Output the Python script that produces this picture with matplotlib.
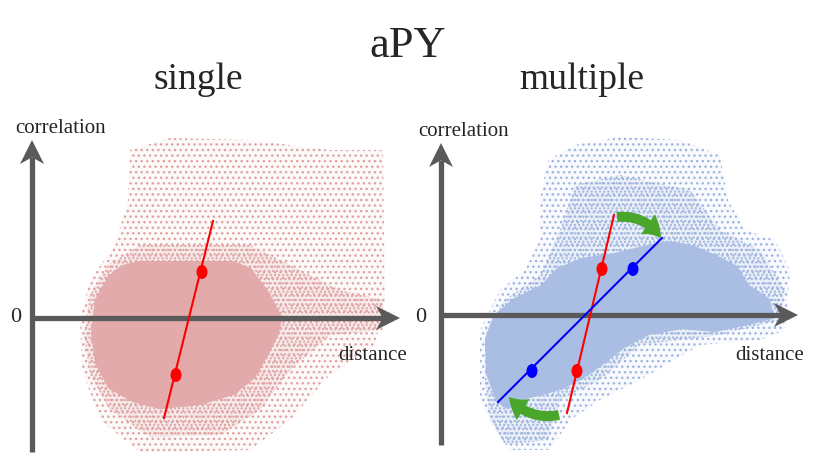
import matplotlib
matplotlib.use("Agg")
import matplotlib.pyplot as plt
from matplotlib.patches import Polygon, Ellipse, FancyArrowPatch

plt.rcParams['font.family'] = ['Liberation Serif', 'DejaVu Serif']
plt.rcParams['hatch.linewidth'] = 1.0

# ---------------- data (panel coordinates: distance, correlation) ----------------
# single panel
single_sparse_x = [98, 138, 218, 298, 351, 353, 343, 298, 258, 218, 108, 68, 50, 48, 58, 83, 96]
single_sparse_y = [168, 180, 178, 168, 168, 18, -27, -57, -102, -132, -134, -102, -52, -2, 38, 73, 118]
single_mid_x = [52, 58, 76, 108, 218, 268, 308, 351, 351, 298, 258, 228, 188, 118, 78, 58]
single_mid_y = [-17, 23, 53, 73, 73, 48, 28, 18, -12, -17, -52, -92, -117, -119, -92, -57]
single_core_x = [108, 201, 218, 235, 248, 245, 235, 221, 201, 168, 128, 101, 78, 65, 61, 65, 78, 91]
single_core_y = [55, 55, 48, 25, 1, -15, -35, -59, -75, -85, -89, -82, -69, -45, -15, 18, 41, 51]
single_red_line_x = [132, 181]
single_red_line_y = [-100, 97]
single_red_dots_x = [170, 144]
single_red_dots_y = [46, -57]

# multiple panel
multi_sparse_x = [99, 107, 134, 179, 239, 279, 287, 304, 334, 349, 344, 319, 259, 199, 159, 129, 109, 69, 54, 39, 39, 59, 84, 99]
multi_sparse_y = [115, 155, 170, 178, 175, 160, 115, 85, 75, 45, -15, -25, -30, -65, -85, -105, -135, -135, -115, -85, -15, 25, 45, 75]
multi_mid_x = [44, 45, 64, 99, 119, 134, 179, 249, 279, 319, 344, 339, 279, 199, 159, 119, 107, 64, 49]
multi_mid_y = [-65, -15, 15, 40, 85, 130, 140, 125, 85, 65, 25, -5, -20, -30, -65, -85, -125, -130, -105]
multi_core_x = [57, 47, 46, 54, 74, 101, 117, 141, 174, 207, 227, 251, 274, 294, 307, 327, 331, 307, 274, 241, 207, 181, 161, 141, 121, 101, 84, 67]
multi_core_y = [-85, -58, -25, -2, 15, 28, 45, 55, 60, 68, 72, 68, 58, 48, 28, 15, -2, -8, -15, -12, -18, -32, -48, -62, -72, -78, -82, -92]
multi_red_line_x = [126, 173]
multi_red_line_y = [-98, 100]
multi_red_dots_x = [136, 161]
multi_red_dots_y = [-56, 46]
multi_blue_line_x = [57, 221]
multi_blue_line_y = [-87, 77]
multi_blue_dots_x = [91, 192]
multi_blue_dots_y = [-56, 46]
green_top_x = [176, 220]
green_top_y = [98, 77]
green_bot_x = [118, 68]
green_bot_y = [-100, -82]

# axes extents (panel coordinates)
single_yaxis = [-134, 178]
single_xaxis = [0, 368]
multi_yaxis = [-130, 172]
multi_xaxis = [0, 357]

PINK = '#e2aaaa'
PINK_D = '#e0a2a2'
BLUE = '#aabee3'
BLUE_D = '#9fb5df'
GREY = '#5a5a5a'
TXT = '#262626'

W, H = 830, 468
fig = plt.figure(figsize=(W / 100, H / 100), dpi=100)

axL = fig.add_axes([0, 0, 415 / W, 368 / H])
axL.set_xlim(-32, 383)
axL.set_ylim(-150, 218)
axR = fig.add_axes([415 / W, 0, 415 / W, 368 / H])
axR.set_xlim(-26, 389)
axR.set_ylim(-153, 215)
for ax in (axL, axR):
    ax.axis('off')


def cloud(ax, sx, sy, mx, my, cx, cy, col, dcol):
    ax.add_patch(Polygon(list(zip(sx, sy)), closed=True, facecolor=col, alpha=0.07,
                         edgecolor='none', lw=0, zorder=1))
    ax.add_patch(Polygon(list(zip(sx, sy)), closed=True, facecolor='none',
                         edgecolor=dcol, hatch='...', lw=0, zorder=1))
    ax.add_patch(Polygon(list(zip(mx, my)), closed=True, facecolor=col, alpha=0.18,
                         edgecolor='none', lw=0, zorder=2))
    ax.add_patch(Polygon(list(zip(mx, my)), closed=True, facecolor='none',
                         edgecolor=dcol, hatch='....', lw=0, zorder=2))
    ax.add_patch(Polygon(list(zip(cx, cy)), closed=True, facecolor=col,
                         edgecolor=col, lw=3, joinstyle='round', zorder=3))


def arrow(ax, p0, p1):
    (x0, y0), (x1, y1) = p0, p1
    dx, dy = x1 - x0, y1 - y0
    n = (dx * dx + dy * dy) ** 0.5
    ux, uy = dx / n, dy / n
    px, py = -uy, ux
    L, Wd = 24, 12
    ax.plot([x0, x1 - 0.7 * L * ux], [y0, y1 - 0.7 * L * uy], color=GREY, lw=3.8,
            solid_capstyle='butt', zorder=5)
    head = [(x1, y1),
            (x1 - L * ux + Wd * px, y1 - L * uy + Wd * py),
            (x1 - 0.72 * L * ux, y1 - 0.72 * L * uy),
            (x1 - L * ux - Wd * px, y1 - L * uy - Wd * py)]
    ax.add_patch(Polygon(head, closed=True, facecolor=GREY, edgecolor='none', zorder=5))


def axes_arrows(ax, yr, xr):
    arrow(ax, (0, yr[0]), (0, yr[1]))
    arrow(ax, (xr[0], 0), (xr[1], 0))


def dots(ax, xs, ys, col):
    for x, y in zip(xs, ys):
        ax.add_patch(Ellipse((x, y), 11, 14, facecolor=col, edgecolor='none', zorder=8))


# single panel
cloud(axL, single_sparse_x, single_sparse_y, single_mid_x, single_mid_y,
      single_core_x, single_core_y, PINK, PINK_D)
axes_arrows(axL, single_yaxis, single_xaxis)
axL.plot(single_red_line_x, single_red_line_y, color='#ff0000', lw=1.5, zorder=7)
dots(axL, single_red_dots_x, single_red_dots_y, '#ff0000')

# multiple panel
cloud(axR, multi_sparse_x, multi_sparse_y, multi_mid_x, multi_mid_y,
      multi_core_x, multi_core_y, BLUE, BLUE_D)
axes_arrows(axR, multi_yaxis, multi_xaxis)
axR.plot(multi_red_line_x, multi_red_line_y, color='#ff0000', lw=1.5, zorder=7)
axR.plot(multi_blue_line_x, multi_blue_line_y, color='#0000ff', lw=1.5, zorder=7)
dots(axR, multi_red_dots_x, multi_red_dots_y, '#ff0000')
dots(axR, multi_blue_dots_x, multi_blue_dots_y, '#0000ff')
gst = 'simple,head_width=1.1,head_length=0.85,tail_width=0.45'
for gx, gy in ((green_top_x, green_top_y), (green_bot_x, green_bot_y)):
    axR.add_patch(FancyArrowPatch((gx[0], gy[0]), (gx[1], gy[1]),
                                  arrowstyle=gst, mutation_scale=16, connectionstyle='arc3,rad=-0.3',
                                  color='#49a62b', lw=0, shrinkA=0, shrinkB=0, zorder=9))


def ftext(x, y, s, size, ha='left', va='baseline'):
    fig.text(x / W, 1 - y / H, s, fontsize=size, ha=ha, va=va, color=TXT)


ftext(408, 57, 'aPY', 32, ha='center')
ftext(198, 89, 'single', 27, ha='center')
ftext(582, 89, 'multiple', 27, ha='center')
ftext(15, 133, 'correlation', 15)
ftext(418, 136, 'correlation', 15)
ftext(407, 360, 'distance', 15, ha='right')
ftext(804, 360, 'distance', 15, ha='right')
ftext(16, 318, '0', 16, ha='center', va='center')
ftext(421, 318, '0', 16, ha='center', va='center')

fig.savefig('out.png', dpi=100)
